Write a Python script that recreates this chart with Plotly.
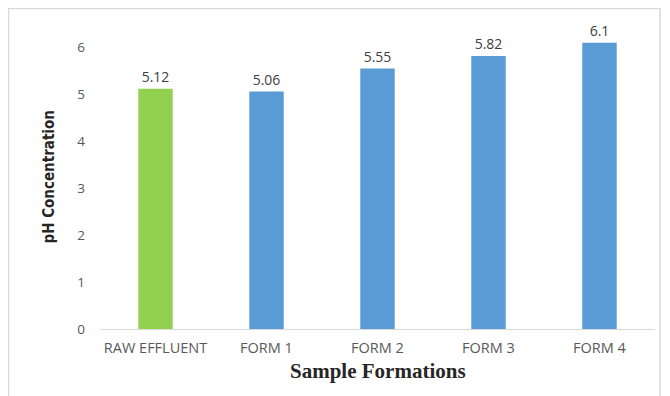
import plotly.graph_objects as go

categories = ["RAW EFFLUENT", "FORM 1", "FORM 2", "FORM 3", "FORM 4"]
ph_values = [5.12, 5.06, 5.55, 5.82, 6.1]
bar_colors = ["#92D050", "#5B9BD5", "#5B9BD5", "#5B9BD5", "#5B9BD5"]
y_ticks = [0, 1, 2, 3, 4, 5, 6]

# page has an 8px body margin; figure coords = page coords - 8
OFF = 8
W, H = 662, 388
L, R, T, B = 100 - OFF, 15, 24 - OFF, 388 - (329 - OFF)

pw = W - L - R
ph = H - T - B

def px(x):
    return (x - OFF - L) / pw

def py(y):
    return (H - B - (y - OFF)) / ph

fig = go.Figure(go.Bar(
    x=categories, y=ph_values,
    marker=dict(color=bar_colors, line=dict(width=0)),
    text=[str(v) for v in ph_values], textposition="outside",
    textfont=dict(family="Open Sans", size=14, color="#404040"),
    cliponaxis=False, width=0.31,
))

fig.add_shape(type="rect", xref="paper", yref="paper",
              x0=px(8.5), x1=px(660),
              y0=py(420), y1=py(8.5),
              line=dict(color="#D9D9D9", width=1.5), fillcolor="rgba(0,0,0,0)", layer="below")

fig.add_annotation(text="<b>pH Concentration</b>", xref="paper", yref="paper",
                   x=px(48), y=py(177.5), textangle=-90, showarrow=False,
                   xanchor="center", yanchor="middle",
                   font=dict(family="DejaVu Sans Condensed", size=15, color="#262626"))
fig.add_annotation(text="<b>Sample Formations</b>", xref="paper", yref="paper",
                   x=px(377.5), y=py(371), showarrow=False,
                   xanchor="center", yanchor="middle",
                   font=dict(family="Liberation Serif", size=21, color="#262626"))

fig.update_layout(
    width=W, height=H,
    margin=dict(l=L, r=R, t=T, b=B, autoexpand=False),
    paper_bgcolor="white", plot_bgcolor="white",
    showlegend=False,
    xaxis=dict(showline=True, linecolor="#D9D9D9", linewidth=1.2, ticks="", automargin=False,
               ticklabelstandoff=5,
               tickfont=dict(family="Open Sans", size=14.5, color="#595959")),
    yaxis=dict(range=[0, 6.5], tickvals=y_ticks, showgrid=False, zeroline=False, showline=False,
               ticks="", ticklabelstandoff=14, automargin=False,
               tickfont=dict(family="Open Sans", size=13.5, color="#595959")),
)

fig.write_html("out.html")
